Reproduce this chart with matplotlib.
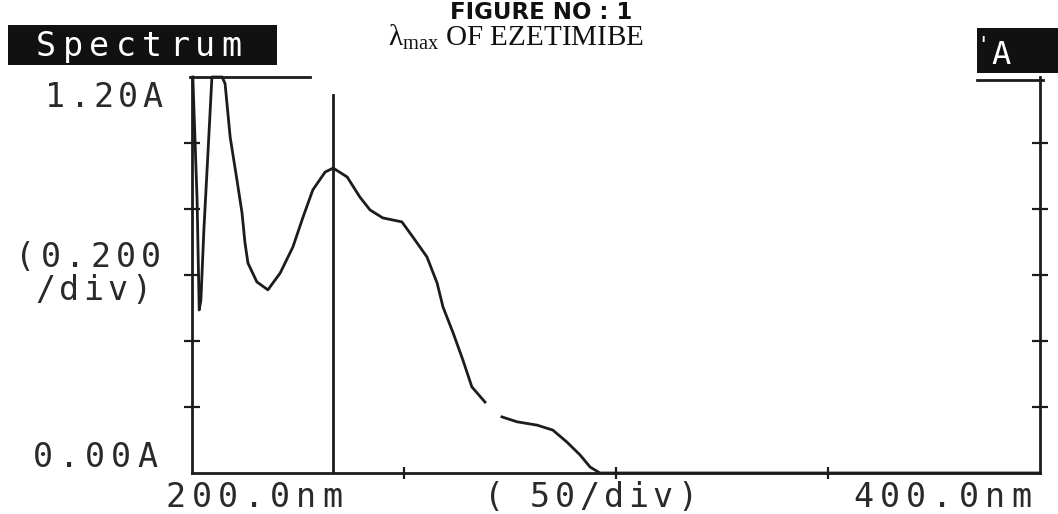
import matplotlib
matplotlib.use("Agg")
import matplotlib.pyplot as plt
from matplotlib.patches import Rectangle

# ---------------- data ----------------
wavelength_nm = [200.2, 201.2, 201.7, 202.1, 202.8, 203.8, 204.7, 207.1, 207.8,
                 209.0, 210.6, 211.8, 212.5, 213.2, 215.3, 217.9, 220.8, 223.8,
                 226.2, 228.5, 231.4, 233.3, 236.6, 239.6, 242.0, 245.0, 249.5,
                 252.1, 255.4, 257.8, 259.2, 261.6, 263.9, 266.0, 269.1, 271.0,
                 273.1, 276.7, 281.4, 285.1, 288.4, 291.5, 293.9, 296.2, 400.0]
absorbance = [1.200, 0.827, 0.494, 0.524, 0.736, 0.979, 1.200, 1.200, 1.180,
              1.018, 0.888, 0.788, 0.697, 0.636, 0.579, 0.555, 0.606, 0.685,
              0.776, 0.858, 0.912, 0.924, 0.897, 0.836, 0.797, 0.773, 0.761,
              0.715, 0.655, 0.576, 0.503, 0.424, 0.342, 0.261, 0.215, float("nan"),
              0.170, 0.155, 0.145, 0.130, 0.094, 0.055, 0.018, 0.000, 0.000]

lambda_max_nm = 233.3
lambda_marker_top = 1.145
x_range = (200.0, 400.0)
y_range = (0.0, 1.20)
x_ticks = [250, 300, 350]
y_ticks = [0.2, 0.4, 0.6, 0.8, 1.0]
top_frame_nm = (199.5, 227.8)

title_1 = "FIGURE NO : 1"
title_2 = r"$\mathrm{\lambda}_{\mathrm{max}}$ OF EZETIMIBE"
panel_label = "Spectrum"
y_top_label = "1.20A"
y_div_label = ["(0.200", "/div)"]
y_bottom_label = "0.00A"
x_left_label = "200.0nm"
x_div_label = "50/div)"
x_right_label = "400.0nm"

# ---------------- figure ----------------
W, H = 1058, 514
INK = "#1c1c1c"
plt.rcParams["mathtext.fontset"] = "custom"
plt.rcParams["mathtext.rm"] = "Liberation Serif"
plt.rcParams["mathtext.it"] = "Liberation Serif:italic"
fig = plt.figure(figsize=(W / 100, H / 100), dpi=100)
fig.patch.set_facecolor("white")


def fx(x):
    return x / W


def fy(y):
    return 1 - y / H


ax = fig.add_axes([fx(192), fy(473), (1040 - 192) / W, (473 - 77) / H])
ax.set_xlim(*x_range)
ax.set_ylim(*y_range)
ax.patch.set_alpha(0)

ax.plot(wavelength_nm, absorbance, color=INK, lw=2.0, clip_on=False,
        solid_joinstyle="round")
ax.plot([lambda_max_nm, lambda_max_nm], [0, lambda_marker_top], color=INK, lw=2.0)
ax.plot(list(top_frame_nm), [y_range[1], y_range[1]], color=INK, lw=2.0, clip_on=False)

for side in ("left", "right", "bottom"):
    ax.spines[side].set_linewidth(2.0)
    ax.spines[side].set_color(INK)
ax.spines["top"].set_visible(False)

ax.set_xticks(x_ticks)
ax.set_yticks(y_ticks)
ax.tick_params(axis="y", direction="inout", length=12, width=1.6, color=INK,
               left=True, right=True, labelleft=False, labelright=False)
ax.tick_params(axis="x", direction="inout", length=8, width=1.6, color=INK,
               labelbottom=False)


def mono(x0, base, s, pitch, size=24, color="#2a2a2a"):
    for i, ch in enumerate(s):
        fig.text(fx(x0 + pitch * (i + 0.5)), fy(base), ch, ha="center",
                 va="baseline", family="DejaVu Sans Mono", fontsize=size,
                 color=color)


# black header boxes
fig.patches.append(Rectangle((fx(8), fy(65)), (277 - 8) / W, (65 - 25) / H,
                             transform=fig.transFigure, facecolor="#111111",
                             edgecolor="none"))
fig.patches.append(Rectangle((fx(977), fy(73)), (1058 - 977) / W, (73 - 28) / H,
                             transform=fig.transFigure, facecolor="#111111",
                             edgecolor="none"))
fig.add_artist(plt.Line2D([fx(977), fx(1043)], [fy(80), fy(80)], color=INK, lw=2.0,
                          transform=fig.transFigure))

mono(33, 56, panel_label, 26.5, size=24, color="white")
mono(989, 64, "A", 24, size=23, color="white")
fig.text(fx(983), fy(52), "'", ha="center", va="baseline", color="white",
         family="DejaVu Sans Mono", fontsize=16)

mono(43, 107, y_top_label, 24.4)
mono(13, 267, y_div_label[0], 25)
mono(33, 300, y_div_label[1], 24)
mono(30, 467, y_bottom_label, 26)
mono(163, 507, x_left_label, 26)
mono(482, 507, "(", 24)
mono(528, 507, x_div_label, 24.5)
mono(850, 507, x_right_label, 26.4)

fig.text(fx(541), fy(19), title_1, ha="center", va="baseline",
         family="DejaVu Sans", fontweight="heavy", fontsize=16.5, color="#111111")
fig.text(fx(516), fy(46), title_2, ha="center", va="baseline",
         family="Liberation Serif", fontsize=21, color="#111111")

fig.savefig("out.png", dpi=100, facecolor="white")
